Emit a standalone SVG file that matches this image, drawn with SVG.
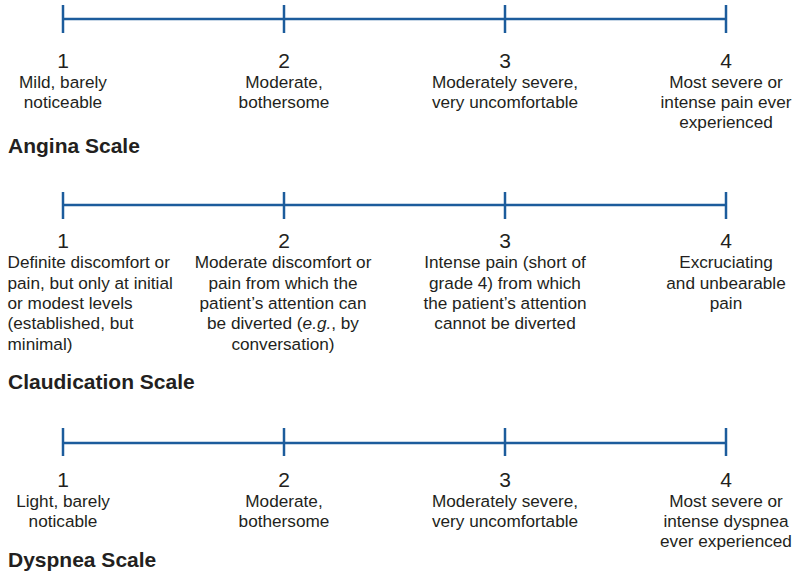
<svg xmlns="http://www.w3.org/2000/svg" width="795" height="572" viewBox="0 0 795 572">
<style>
.ax{stroke:#1c5c9c;stroke-width:2.5;fill:none}
.num{font-family:"Liberation Sans",Arial,sans-serif;font-size:21px;fill:#231f20;text-anchor:middle}
.lb{font-family:"Liberation Sans",Arial,sans-serif;font-size:17.2px;fill:#231f20;text-anchor:middle}
.lbl{font-family:"Liberation Sans",Arial,sans-serif;font-size:17.2px;fill:#231f20}
.tt{font-family:"Liberation Sans",Arial,sans-serif;font-size:21px;font-weight:bold;fill:#231f20}
</style>
<rect width="795" height="572" fill="#ffffff"/>
<g id="connectors">
  <g id="angina-axis">
    <line class="ax" x1="63" y1="19" x2="726" y2="19"/>
    <line class="ax" x1="63" y1="5" x2="63" y2="33"/>
    <line class="ax" x1="284" y1="5" x2="284" y2="33"/>
    <line class="ax" x1="505" y1="5" x2="505" y2="33"/>
    <line class="ax" x1="726" y1="5" x2="726" y2="33"/>
  </g>
  <g id="claudication-axis">
    <line class="ax" x1="63" y1="205" x2="726" y2="205"/>
    <line class="ax" x1="63" y1="192" x2="63" y2="219"/>
    <line class="ax" x1="284" y1="192" x2="284" y2="219"/>
    <line class="ax" x1="505" y1="192" x2="505" y2="219"/>
    <line class="ax" x1="726" y1="192" x2="726" y2="219"/>
  </g>
  <g id="dyspnea-axis">
    <line class="ax" x1="63" y1="443" x2="726" y2="443"/>
    <line class="ax" x1="63" y1="428" x2="63" y2="456"/>
    <line class="ax" x1="284" y1="428" x2="284" y2="456"/>
    <line class="ax" x1="505" y1="428" x2="505" y2="456"/>
    <line class="ax" x1="726" y1="428" x2="726" y2="456"/>
  </g>
</g>

<g id="angina-1">
  <text class="num" x="63" y="68">1</text>
  <text class="lb" x="63" y="88">Mild, barely</text>
  <text class="lb" x="63" y="108">noticeable</text>
</g>
<g id="angina-2">
  <text class="num" x="284" y="68">2</text>
  <text class="lb" x="284" y="88">Moderate,</text>
  <text class="lb" x="284" y="108">bothersome</text>
</g>
<g id="angina-3">
  <text class="num" x="505" y="68">3</text>
  <text class="lb" x="505" y="88">Moderately severe,</text>
  <text class="lb" x="505" y="108">very uncomfortable</text>
</g>
<g id="angina-4">
  <text class="num" x="726" y="68">4</text>
  <text class="lb" x="726" y="88">Most severe or</text>
  <text class="lb" x="726" y="108">intense pain ever</text>
  <text class="lb" x="726" y="128">experienced</text>
</g>
<g id="angina-title">
  <text class="tt" x="8" y="152.5">Angina Scale</text>
</g>

<g id="claudication-1">
  <text class="num" x="63" y="248">1</text>
  <text class="lbl" x="7.5" y="268">Definite discomfort or</text>
  <text class="lbl" x="7.5" y="288.5">pain, but only at initial</text>
  <text class="lbl" x="7.5" y="309">or modest levels</text>
  <text class="lbl" x="7.5" y="329">(established, but</text>
  <text class="lbl" x="7.5" y="349.5">minimal)</text>
</g>
<g id="claudication-2">
  <text class="num" x="284" y="248">2</text>
  <text class="lb" x="283" y="268">Moderate discomfort or</text>
  <text class="lb" x="283" y="288.5">pain from which the</text>
  <text class="lb" x="283" y="309">patient’s attention can</text>
  <text class="lb" x="283" y="329">be diverted (<tspan font-style="italic">e.g.</tspan>, by</text>
  <text class="lb" x="283" y="349.5">conversation)</text>
</g>
<g id="claudication-3">
  <text class="num" x="505" y="248">3</text>
  <text class="lb" x="505" y="268">Intense pain (short of</text>
  <text class="lb" x="505" y="288.5">grade 4) from which</text>
  <text class="lb" x="505" y="309">the patient’s attention</text>
  <text class="lb" x="505" y="329">cannot be diverted</text>
</g>
<g id="claudication-4">
  <text class="num" x="726" y="248">4</text>
  <text class="lb" x="726" y="268">Excruciating</text>
  <text class="lb" x="726" y="288.5">and unbearable</text>
  <text class="lb" x="726" y="309">pain</text>
</g>
<g id="claudication-title">
  <text class="tt" x="8" y="389">Claudication Scale</text>
</g>

<g id="dyspnea-1">
  <text class="num" x="63" y="487">1</text>
  <text class="lb" x="63" y="507">Light, barely</text>
  <text class="lb" x="63" y="527">noticable</text>
</g>
<g id="dyspnea-2">
  <text class="num" x="284" y="487">2</text>
  <text class="lb" x="284" y="507">Moderate,</text>
  <text class="lb" x="284" y="527">bothersome</text>
</g>
<g id="dyspnea-3">
  <text class="num" x="505" y="487">3</text>
  <text class="lb" x="505" y="507">Moderately severe,</text>
  <text class="lb" x="505" y="527">very uncomfortable</text>
</g>
<g id="dyspnea-4">
  <text class="num" x="726" y="487">4</text>
  <text class="lb" x="726" y="507">Most severe or</text>
  <text class="lb" x="726" y="527">intense dyspnea</text>
  <text class="lb" x="726" y="547">ever experienced</text>
</g>
<g id="dyspnea-title">
  <text class="tt" x="8" y="566.5">Dyspnea Scale</text>
</g>
</svg>
